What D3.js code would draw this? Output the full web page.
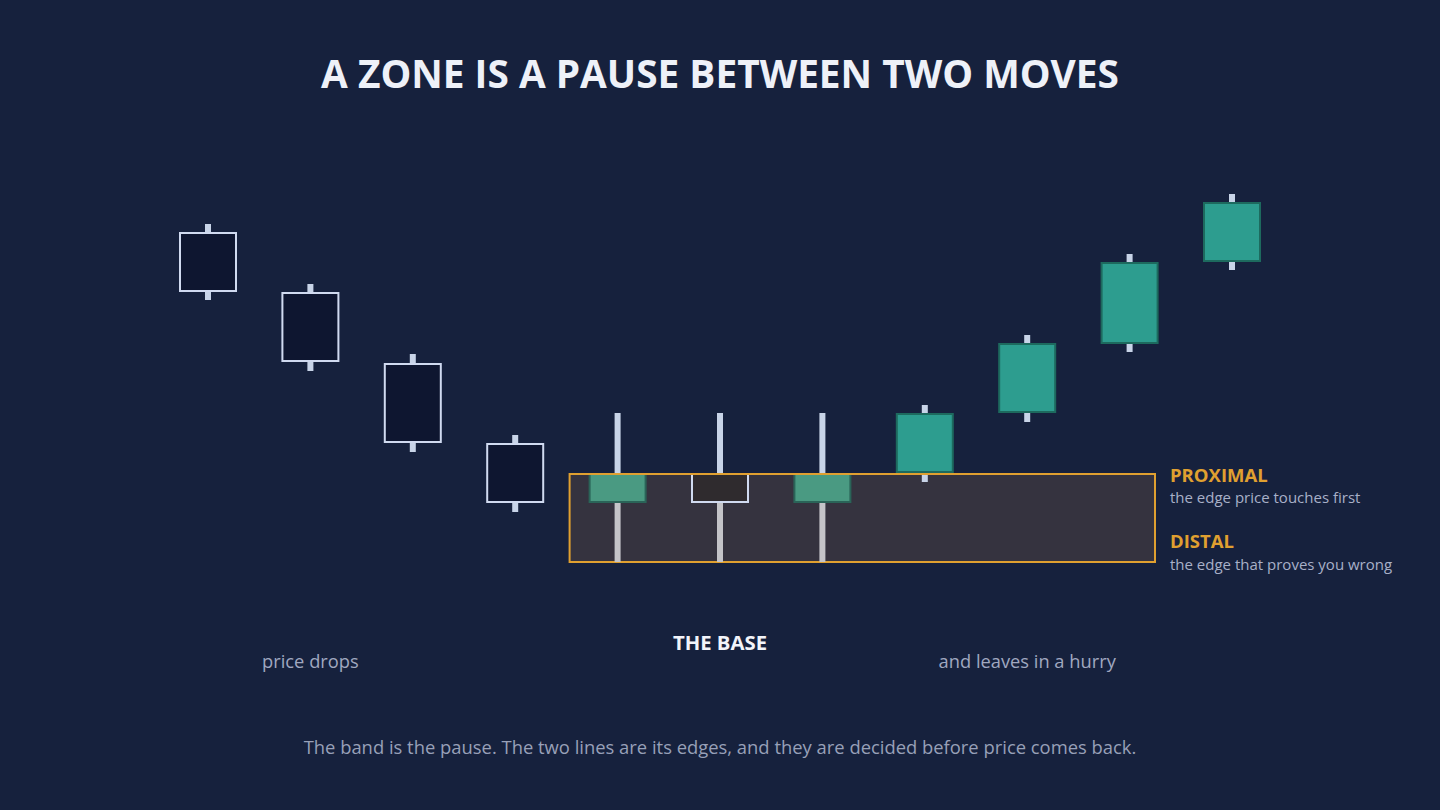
<!DOCTYPE html>
<html><head><meta charset="utf-8">
<script src="https://cdn.jsdelivr.net/npm/d3@7"></script>
<style>body{margin:0;background:#16213d;}svg{display:block;font-family:"Open Sans","Noto Sans",sans-serif;}</style>
</head><body><svg id="c" width="1440" height="810"></svg>
<script>
const ids = [1,2,3,4,5,6,7,8,9,10,11];
const highs  = [94, 79, 61.5, 41.25, 46.75, 46.75, 46.75, 48.75, 66.25, 86.5, 101.5];
const opens  = [91.75, 76.75, 59, 39, 24.5, 31.5, 24.5, 32, 47, 64.25, 84.75];
const closes = [77.25, 59.75, 39.5, 24.5, 31.5, 24.5, 31.5, 46.5, 64, 84.25, 99.25];
const lows   = [75, 57.25, 37, 22, 9.5, 9.5, 9.5, 29.5, 44.5, 62, 82.5];
const kinds  = ["drop","drop","drop","drop","base","baseDark","base","rally","rally","rally","rally"];
const zoneTop = 31.5, zoneBottom = 9.5;

const svg = d3.select("#c");
const xp = d3.scalePoint().domain(ids).range([208, 1232]);
const y = d3.scaleLinear().domain([0, 100]).range([600, 200]);
const bw = 58, cx = d => xp(d), x = d => xp(d) - bw/2;

svg.append("text").attr("x",720).attr("y",88).attr("text-anchor","middle")
  .attr("fill","#eef1f8").attr("font-size",38.8).attr("font-weight",700).text("A ZONE IS A PAUSE BETWEEN TWO MOVES");

const zx0 = cx(5) - 48, zx1 = 1155;
svg.append("rect").attr("x",zx0).attr("y",y(zoneTop)).attr("width",zx1-zx0).attr("height",y(zoneBottom)-y(zoneTop))
  .attr("fill","#35333f").attr("stroke","#e0a030").attr("stroke-width",2);

const data = ids.map((id,i)=>({id,h:highs[i],o:opens[i],c:closes[i],l:lows[i],k:kinds[i]}));
const g = svg.append("g");
data.forEach(d=>{
  const top = Math.max(d.o,d.c), bot = Math.min(d.o,d.c);
  const isBase = d.k.startsWith("base");
  const ww = 6;
  g.append("rect").attr("x",cx(d.id)-ww/2).attr("y",y(d.h)).attr("width",ww).attr("height",y(top)-y(d.h)).attr("fill","#c8d4e8");
  g.append("rect").attr("x",cx(d.id)-ww/2).attr("y",y(bot)).attr("width",ww).attr("height",y(d.l)-y(bot)).attr("fill", isBase ? "#c4c4c8" : "#c8d4e8");
  const fill = {drop:"#0e1630",base:"#4a9a82",baseDark:"#2f2b2e",rally:"#2d9d8f"}[d.k];
  const stroke = {drop:"#d0daf0",base:"#2a6458",baseDark:"#d0daf0",rally:"#1d6a5e"}[d.k];
  g.append("rect").attr("x",x(d.id)+1).attr("y",y(top)).attr("width",bw-2).attr("height",y(bot)-y(top))
    .attr("fill",fill).attr("stroke",stroke).attr("stroke-width",2);
});
svg.append("line").attr("x1",zx0).attr("x2",zx1).attr("y1",y(zoneTop)).attr("y2",y(zoneTop)).attr("stroke","#e0a030").attr("stroke-width",2);

const lab = (t,xx,yy,fs,fill,fw,anchor)=>svg.append("text").attr("x",xx).attr("y",yy).attr("font-size",fs).attr("fill",fill)
  .attr("font-weight",fw||400).attr("text-anchor",anchor||"start").text(t);
lab("PROXIMAL",1170,y(zoneTop)+8,18.5,"#e0a030",700);
lab("the edge price touches first",1170,y(zoneTop)+29,15,"#a8b0c8");
lab("DISTAL",1170,548,18.5,"#e0a030",700);
lab("the edge that proves you wrong",1170,570,15,"#a8b0c8");
lab("price drops",cx(2),668,18.3,"#a0a8c0",400,"middle");
lab("THE BASE",cx(6),650,20.3,"#f2f4fa",700,"middle");
lab("and leaves in a hurry",cx(9),668,18.3,"#a0a8c0",400,"middle");
lab("The band is the pause. The two lines are its edges, and they are decided before price comes back.",720,754,18.4,"#98a0b8",400,"middle");
</script></body></html>
